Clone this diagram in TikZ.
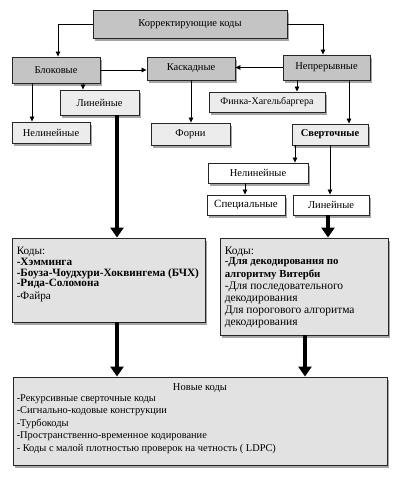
\documentclass[tikz,border=0pt]{standalone}
\usepackage{fontspec}
\setmainfont{Liberation Serif}
\usetikzlibrary{shadows,arrows.meta}
\definecolor{gdark}{RGB}{196,196,196}
\definecolor{glight}{RGB}{236,236,236}
\definecolor{gbox}{RGB}{226,226,226}
\begin{document}
\begin{tikzpicture}[x=1pt,y=-1pt,
  base/.style={draw=black!85, line width=0.9pt, inner sep=1pt, font=\fontsize{10.5}{12}\selectfont,
    drop shadow={shadow xshift=2pt, shadow yshift=-2.5pt, fill=black, opacity=0.35}},
  dbox/.style={base, fill=gdark},
  lbox/.style={base, fill=glight},
  wbox/.style={base, fill=white},
  cbox/.style={base, fill=gbox},
  arr/.style={draw=black, line width=0.8pt, -{Triangle[width=4.5pt,length=5pt]}},
  thick arr/.style={draw=black, line width=3.6pt, -{Triangle[width=13pt,length=10pt]}},
  txt/.style={inner sep=0pt, align=left, anchor=north west}
]
\useasboundingbox[fill=white] (0,0) rectangle (400,480);

\node[dbox, minimum width=194pt, minimum height=28pt] (top) at (190,24) {Корректирующие коды};
\node[dbox, minimum width=88pt, minimum height=26pt] (blok) at (56,70) {Блоковые};
\node[dbox, minimum width=88pt, minimum height=23pt] (kask) at (191,68.5) {Каскадные};
\node[dbox, minimum width=87pt, minimum height=25pt] (nepr) at (326.5,67.5) {Непрерывные};
\node[lbox, minimum width=79pt, minimum height=25pt] (linL) at (99.5,102.5) {Линейные};
\node[lbox, minimum width=116pt, minimum height=20pt, font=\fontsize{10}{12}\selectfont] (fink) at (267,102) {Финка-Хагельбаргера};
\node[lbox, minimum width=78pt, minimum height=21pt] (nelL) at (51,132.5) {Нелинейные};
\node[lbox, minimum width=79pt, minimum height=22pt] (forni) at (190.5,134) {Форни};
\node[lbox, minimum width=76pt, minimum height=21pt] (svert) at (330,134.5) {\textbf{Сверточные}};
\node[wbox, minimum width=100pt, minimum height=20pt] (nelR) at (258,173) {Нелинейные};
\node[wbox, minimum width=78pt, minimum height=20pt, font=\fontsize{11}{12}\selectfont] (spec) at (246,205) {Специальные};
\node[wbox, minimum width=76pt, minimum height=20pt] (linR) at (331,205) {Линейные};

\node[cbox, minimum width=193pt, minimum height=84pt] (codesL) at (108.5,280) {};
\node[cbox, minimum width=168pt, minimum height=97pt] (codesR) at (304,286.5) {};
\node[cbox, minimum width=374pt, minimum height=88pt] (newc) at (200,421) {};

\node[txt, font=\fontsize{11.2}{10.8}\selectfont] (tL) at ([xshift=5pt,yshift=-9.5pt]codesL.north west) {Коды:\\
\textbf{-Хэмминга}\\
\textbf{-Боуза-Чоудхури-Хоквингема (БЧХ)}\\
\textbf{-Рида-Соломона}\\[1.5pt]
-Файра};
\node[txt, font=\fontsize{11.5}{12.2}\selectfont] (tR) at ([xshift=5pt,yshift=-9pt]codesR.north west) {Коды:\\[-1.5pt]
{\fontsize{10.8}{12.2}\selectfont\textbf{-Для декодирования по}}\\
{\fontsize{10.8}{12.2}\selectfont\textbf{алгоритму Витерби}}\\
-Для последовательного\\
декодирования\\
Для порогового алгоритма\\
декодирования};
\node[font=\fontsize{10.5}{12}\selectfont, inner sep=0pt] (tNh) at (200,388) {Новые коды};
\node[txt, font=\fontsize{10.4}{12.4}\selectfont] (tN) at ([xshift=4pt,yshift=-18pt]newc.north west) {-Рекурсивные сверточные коды\\
-Сигнально-кодовые конструкции\\
-Турбокоды\\
-Пространственно-временное кодирование\\
- Коды с малой плотностью проверок на четность ( LDPC)};

\coordinate (x58) at (58,0);
\coordinate (x323) at (323,0);
\coordinate (x83) at (83,0);
\coordinate (x32) at (32,0);
\coordinate (x297) at (297,0);
\coordinate (x349) at (349,0);
\coordinate (x295) at (295,0);
\coordinate (x330) at (330,0);
\coordinate (x245) at (245,0);
\coordinate (x117) at (117,0);
\coordinate (x328) at (328,0);
\coordinate (x305) at (305,0);

\draw[arr] (top.west) -| (x58 |- blok.north);
\draw[arr] (top.east) -| (x323 |- nepr.north);
\draw[arr] (blok.east) -- (blok.east -| kask.west);
\draw[arr] (nepr.west) -- (nepr.west -| kask.east);
\draw[arr] (x83 |- blok.south) -- (x83 |- linL.north);
\draw[arr] (x32 |- blok.south) -- (x32 |- nelL.north);
\draw[arr] (kask.south) -- (kask.south |- forni.north);
\draw[arr] (x297 |- nepr.south) -- (x297 |- fink.north);
\draw[arr] (x349 |- nepr.south) -- (x349 |- svert.north);
\draw[arr] (x295 |- svert.south) -- (x295 |- nelR.north);
\draw[arr] (x330 |- svert.south) -- (x330 |- linR.north);
\draw[arr] (x245 |- nelR.south) -- (x245 |- spec.north);

\draw[thick arr] (x117 |- linL.south) -- (x117 |- codesL.north);
\draw[thick arr] (x328 |- linR.south) -- (x328 |- codesR.north);
\draw[thick arr] (x117 |- codesL.south) -- (x117 |- newc.north);
\draw[thick arr] (x305 |- codesR.south) -- (x305 |- newc.north);
\end{tikzpicture}
\end{document}
